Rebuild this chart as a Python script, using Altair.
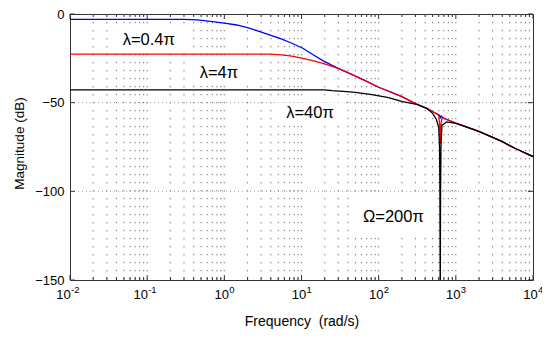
import altair as alt
import pandas as pd

# ---------------- data ----------------
blue_w = [0.01, 0.3, 0.45, 0.7, 1.0, 1.45, 2.1, 2.9, 4.0, 5.25, 7.5, 10.4, 14, 18.9, 25, 34,
          50, 70, 100, 150, 200, 300, 420, 540, 610, 628, 645, 700, 1000, 1500, 2000, 3000,
          4000, 6000, 10000]
blue_db = [-3.0, -3.0, -3.3, -4.3, -5.2, -6.2, -8.0, -10.0, -12.0, -13.7, -16.5, -19.3, -22.8,
           -26.3, -29.0, -31.8, -35.0, -38.0, -41.3, -44.3, -46.6, -50.5, -53.2, -55.8, -57.0,
           -58.5, -57.5, -58.8, -61.5, -64.2, -66.2, -69.6, -72.0, -76.0, -80.4]

red_w = [0.01, 4.0, 5.5, 7.5, 10.4, 14, 18.9, 25, 34, 50, 70, 100, 150, 200, 300, 420, 540,
         600, 618, 628, 638, 660, 700, 1000, 1500, 2000, 3000, 4000, 6000, 10000]
red_db = [-22.6, -22.6, -23.0, -23.8, -25.0, -26.3, -27.8, -29.5, -31.6, -35.0, -38.0, -41.3,
          -44.3, -46.6, -50.5, -53.2, -55.8, -57.0, -63.0, -73.5, -63.0, -58.5, -58.9, -61.5,
          -64.2, -66.2, -69.6, -72.0, -76.0, -80.4]

black_w = [0.01, 20, 25, 35, 50, 78, 130, 205, 310, 420, 500, 560, 600, 615, 622, 628, 634,
           642, 660, 760, 1000, 1500, 2000, 3000, 4000, 6000, 10000]
black_db = [-42.8, -42.8, -43.2, -43.6, -44.2, -45.3, -47.0, -49.4, -50.9, -53.2, -56.0, -59.5,
            -64.0, -75.0, -100.0, -170.0, -100.0, -75.0, -62.8, -60.8, -61.7, -64.3, -66.3,
            -69.6, -72.0, -76.0, -80.4]

label_text = ["λ=0.4π", "λ=4π", "λ=40π", "Ω=200π"]
label_w = [0.105, 0.85, 12.9, 155]
label_db = [-14.7, -33.0, -56.1, -114.2]

decade_exp = [-2, -1, 0, 1, 2, 3, 4]
y_tick_vals = [-150, -100, -50, 0]

# ---------------- derived tables ----------------
W, H = 463, 266
FONT = "Liberation Sans"

xs = alt.Scale(type="log", domain=[0.01, 10000], nice=False)
ys = alt.Scale(domain=[-150, 0], nice=False)

minor = []
major = []
for e in decade_exp[:-1]:
    for k in range(1, 10):
        v = k * 10.0 ** e
        (major if k == 1 else minor).append(v)
major.append(10.0 ** decade_exp[-1])
grid_df = pd.DataFrame({"w": [v for v in major + minor if 0.01 < v < 10000]})
major_df = pd.DataFrame({"w": major})
minor_df = pd.DataFrame({"w": minor})

hgrid_df = pd.DataFrame({"db": [v for v in y_tick_vals if -150 < v < 0]})
ytick_df = pd.DataFrame({"db": y_tick_vals})

dec_df = pd.DataFrame({
    "w": [10.0 ** e for e in decade_exp],
    "exp": [str(e) for e in decade_exp],
    "neg": [e < 0 for e in decade_exp],
})
neg_df = dec_df[dec_df["neg"]]
pos_df = dec_df[~dec_df["neg"]]

lab_df = pd.DataFrame({"w": label_w, "db": label_db, "t": label_text})

xaxis = alt.Axis(title="Frequency\u00a0\u00a0(rad/s)", labels=False, ticks=False, tickSize=0,
                 domain=False, grid=False, titleFontSize=14, titleFontWeight="normal",
                 titleFont=FONT, titleColor="black", titlePadding=34)
yaxis = alt.Axis(title="Magnitude (dB)", values=y_tick_vals, ticks=False, tickSize=0,
                 domain=False, grid=False, labelFontSize=13, labelFont=FONT,
                 labelColor="black", labelPadding=6, titleFontSize=13.5,
                 titleFontWeight="normal", titleFont=FONT, titleColor="black",
                 titlePadding=8, titleY=129)

vgrid = alt.Chart(grid_df).mark_rule(color="#7a7a7a", strokeWidth=1.1,
                                     strokeDash=[1.2, 6.8]).encode(
    x=alt.X("w:Q", scale=xs, axis=xaxis), y=alt.value(0), y2=alt.value(H))

hgrid = alt.Chart(hgrid_df).mark_rule(color="#9a9a9a", strokeWidth=1,
                                      strokeDash=[1, 3]).encode(
    y=alt.Y("db:Q", scale=ys, axis=yaxis), x=alt.value(0), x2=alt.value(W))

tick_col = "#333333"
tb_major = alt.Chart(major_df).mark_rule(color=tick_col).encode(
    x=alt.X("w:Q", scale=xs), y=alt.value(H), y2=alt.value(H - 5))
tt_major = alt.Chart(major_df).mark_rule(color=tick_col).encode(
    x=alt.X("w:Q", scale=xs), y=alt.value(0), y2=alt.value(5))
tb_minor = alt.Chart(minor_df).mark_rule(color=tick_col).encode(
    x=alt.X("w:Q", scale=xs), y=alt.value(H), y2=alt.value(H - 3))
tt_minor = alt.Chart(minor_df).mark_rule(color=tick_col).encode(
    x=alt.X("w:Q", scale=xs), y=alt.value(0), y2=alt.value(3))
tl = alt.Chart(ytick_df).mark_rule(color=tick_col).encode(
    y=alt.Y("db:Q", scale=ys), x=alt.value(0), x2=alt.value(5))
tr = alt.Chart(ytick_df).mark_rule(color=tick_col).encode(
    y=alt.Y("db:Q", scale=ys), x=alt.value(W), x2=alt.value(W - 5))

box_sizes = [(72, 22), (60, 22), (68, 22), (88, 40)]
boxes = []
for (bw, bh), i in zip(box_sizes, range(len(label_text))):
    boxes.append(alt.Chart(lab_df.iloc[[i]]).mark_rect(color="white", width=bw, height=bh).encode(
        x=alt.X("w:Q", scale=xs), y=alt.Y("db:Q", scale=ys)))


def line(w, db, color):
    df = pd.DataFrame({"w": w, "db": db})
    return alt.Chart(df).mark_line(color=color, strokeWidth=1.3, clip=True).encode(
        x=alt.X("w:Q", scale=xs), y=alt.Y("db:Q", scale=ys))


lb = line(blue_w, blue_db, "#0000ff")
lr = line(red_w, red_db, "#ff0000")
lk = line(black_w, black_db, "#000000")

labels = alt.Chart(lab_df).mark_text(font=FONT, fontSize=16.5, color="black",
                                     align="center", baseline="middle").encode(
    x=alt.X("w:Q", scale=xs), y=alt.Y("db:Q", scale=ys), text="t:N")

ten_neg = alt.Chart(neg_df).mark_text(font=FONT, fontSize=13, color="black", align="center",
                                      baseline="middle", dx=-6.5).encode(
    x=alt.X("w:Q", scale=xs), y=alt.value(H + 15), text=alt.value("10"))
exp_neg = alt.Chart(neg_df).mark_text(font=FONT, fontSize=9.5, color="black", align="left",
                                      baseline="middle", dx=1).encode(
    x=alt.X("w:Q", scale=xs), y=alt.value(H + 10), text="exp:N")
ten_pos = alt.Chart(pos_df).mark_text(font=FONT, fontSize=13, color="black", align="center",
                                      baseline="middle", dx=-2.5).encode(
    x=alt.X("w:Q", scale=xs), y=alt.value(H + 15), text=alt.value("10"))
exp_pos = alt.Chart(pos_df).mark_text(font=FONT, fontSize=9.5, color="black", align="left",
                                      baseline="middle", dx=5).encode(
    x=alt.X("w:Q", scale=xs), y=alt.value(H + 10), text="exp:N")

chart = alt.layer(
    vgrid, hgrid, tb_major, tt_major, tb_minor, tt_minor, tl, tr,
    *boxes, lb, lr, lk, labels, ten_neg, exp_neg, ten_pos, exp_pos
).properties(
    width=W, height=H,
    autosize=alt.AutoSizeParams(type="none"),
    padding={"left": 62, "top": 6, "right": 9, "bottom": 49},
).configure(font=FONT).configure_view(stroke="#333333", strokeWidth=1)

chart.save("out.html", embed_options={"renderer": "svg", "actions": False})
